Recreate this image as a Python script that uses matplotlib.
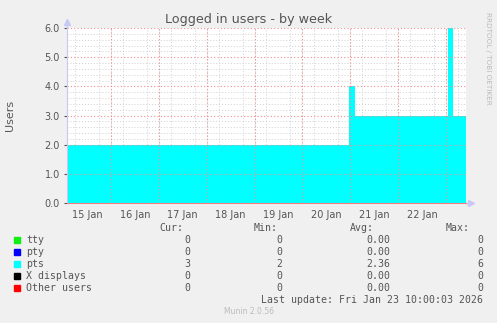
import numpy as np
import pandas as pd
import matplotlib
matplotlib.use("Agg")
import matplotlib.pyplot as plt
import matplotlib.dates as mdates

# === data ===
step_times = ["2026-01-15 02:00", "2026-01-20 23:15", "2026-01-21 02:15",
              "2026-01-23 01:10", "2026-01-23 03:30", "2026-01-23 10:00"]
pts_users = [2, 4, 3, 6, 3, 3]

day_labels = ["15 Jan", "16 Jan", "17 Jan", "18 Jan", "19 Jan", "20 Jan", "21 Jan", "22 Jan"]
y_ticks = [0.0, 1.0, 2.0, 3.0, 4.0, 5.0, 6.0]

legend_names = ["tty", "pty", "pts", "X displays", "Other users"]
legend_colors = ["#11EE11", "#0000FF", "#00FFFF", "#000000", "#FF0000"]
cur_vals = ["0", "0", "3", "0", "0"]
min_vals = ["0", "0", "2", "0", "0"]
avg_vals = ["0.00", "0.00", "2.36", "0.00", "0.00"]
max_vals = ["0", "0", "6", "0", "0"]

W, H = 497, 323
BG = "#F0F0F0"
TXT = "#555555"


def px(x, y):
    return x / W, 1 - y / H


fig = plt.figure(figsize=(W / 100, H / 100), dpi=100, facecolor=BG)
ax = fig.add_axes([67 / W, 1 - 203 / H, (466 - 67) / W, (203 - 28) / H])
ax.set_facecolor("white")

t = pd.to_datetime(step_times)
ax.fill_between(t, pts_users, step="post", color="#00FFFF", lw=0, zorder=2)

t0, t1 = t[0], t[-1]
ax.set_xlim(t0, t1)
ax.set_ylim(0, 6)

# grid: minor grey every 6h / 0.2, major red at midnight / 1.0
ax.xaxis.set_minor_locator(mdates.HourLocator(byhour=[0, 6, 12, 18]))
ax.yaxis.set_minor_locator(matplotlib.ticker.MultipleLocator(0.2))
ax.grid(which="minor", color="#D0D0D0", ls=(0, (1, 2)), lw=0.7, zorder=3)
for d in pd.date_range("2026-01-16", "2026-01-23", freq="D"):
    ax.axvline(d, color="#F09090", ls=(0, (1, 2)), lw=0.8, zorder=3)
for yv in y_ticks[1:]:
    ax.axhline(yv, color="#F09090", ls=(0, (1, 2)), lw=0.8, zorder=3)

noons = pd.date_range("2026-01-15 12:00", periods=len(day_labels), freq="D")
ax.set_xticks(noons)
ax.set_xticklabels(day_labels)
ax.set_yticks(y_ticks)
ax.set_yticklabels([f"{v:.1f}" for v in y_ticks])
ax.tick_params(axis="x", which="both", length=0, labelsize=7, colors=TXT, pad=5)
ax.tick_params(axis="y", which="major", length=2, labelsize=7, colors=TXT, pad=3)
ax.tick_params(axis="y", which="minor", length=0)

for s in ["top", "right"]:
    ax.spines[s].set_visible(False)
ax.spines["left"].set_color("#C8C8F8")
ax.spines["bottom"].set_color("#F08080")
ax.spines["left"].set_zorder(4)
ax.spines["bottom"].set_zorder(4)
ax.plot([0, 0], [1, 1.035], transform=ax.transAxes, color="#C8C8F8", lw=1, clip_on=False)
ax.plot([0], [1.035], marker="^", ms=4, color="#C8C8F8", transform=ax.transAxes, clip_on=False)
ax.plot([1, 1.012], [0, 0], transform=ax.transAxes, color="#C8C8F8", lw=1, clip_on=False)
ax.plot([1.012], [0], marker=">", ms=4, color="#C8C8F8", transform=ax.transAxes, clip_on=False)

# title and labels
fig.text(*px(249, 19), "Logged in users - by week", ha="center", va="center",
         fontsize=9.2, color=TXT)
fig.text(*px(10, 115), "Users", rotation=90, ha="center", va="center",
         fontsize=8, color=TXT)
fig.text(*px(488, 58), "RRDTOOL / TOBI OETIKER", rotation=270, ha="center", va="center",
         fontsize=5.2, color="#BBBBBB")

# legend
mono = dict(family="DejaVu Sans Mono", fontsize=7.1, color=TXT, va="center")
fig.text(*px(183, 228), "Cur:", ha="right", **mono)
fig.text(*px(278, 228), "Min:", ha="right", **mono)
fig.text(*px(374, 228), "Avg:", ha="right", **mono)
fig.text(*px(470, 228), "Max:", ha="right", **mono)
for i, name in enumerate(legend_names):
    yy = 240 + 12 * i
    fig.patches.append(plt.Rectangle(px(14, yy + 3), 6 / W, 6 / H, transform=fig.transFigure,
                                     color=legend_colors[i], figure=fig))
    fig.text(*px(26, yy), name, ha="left", **mono)
    fig.text(*px(190, yy), cur_vals[i], ha="right", **mono)
    fig.text(*px(282, yy), min_vals[i], ha="right", **mono)
    fig.text(*px(390, yy), avg_vals[i], ha="right", **mono)
    fig.text(*px(483, yy), max_vals[i], ha="right", **mono)

fig.text(*px(483, 300), "Last update: Fri Jan 23 10:00:03 2026", ha="right", **mono)
fig.text(*px(249, 311), "Munin 2.0.56", ha="center", va="center", fontsize=5.5, color="#BBBBBB")

fig.savefig("out.png", dpi=100, facecolor=BG)
